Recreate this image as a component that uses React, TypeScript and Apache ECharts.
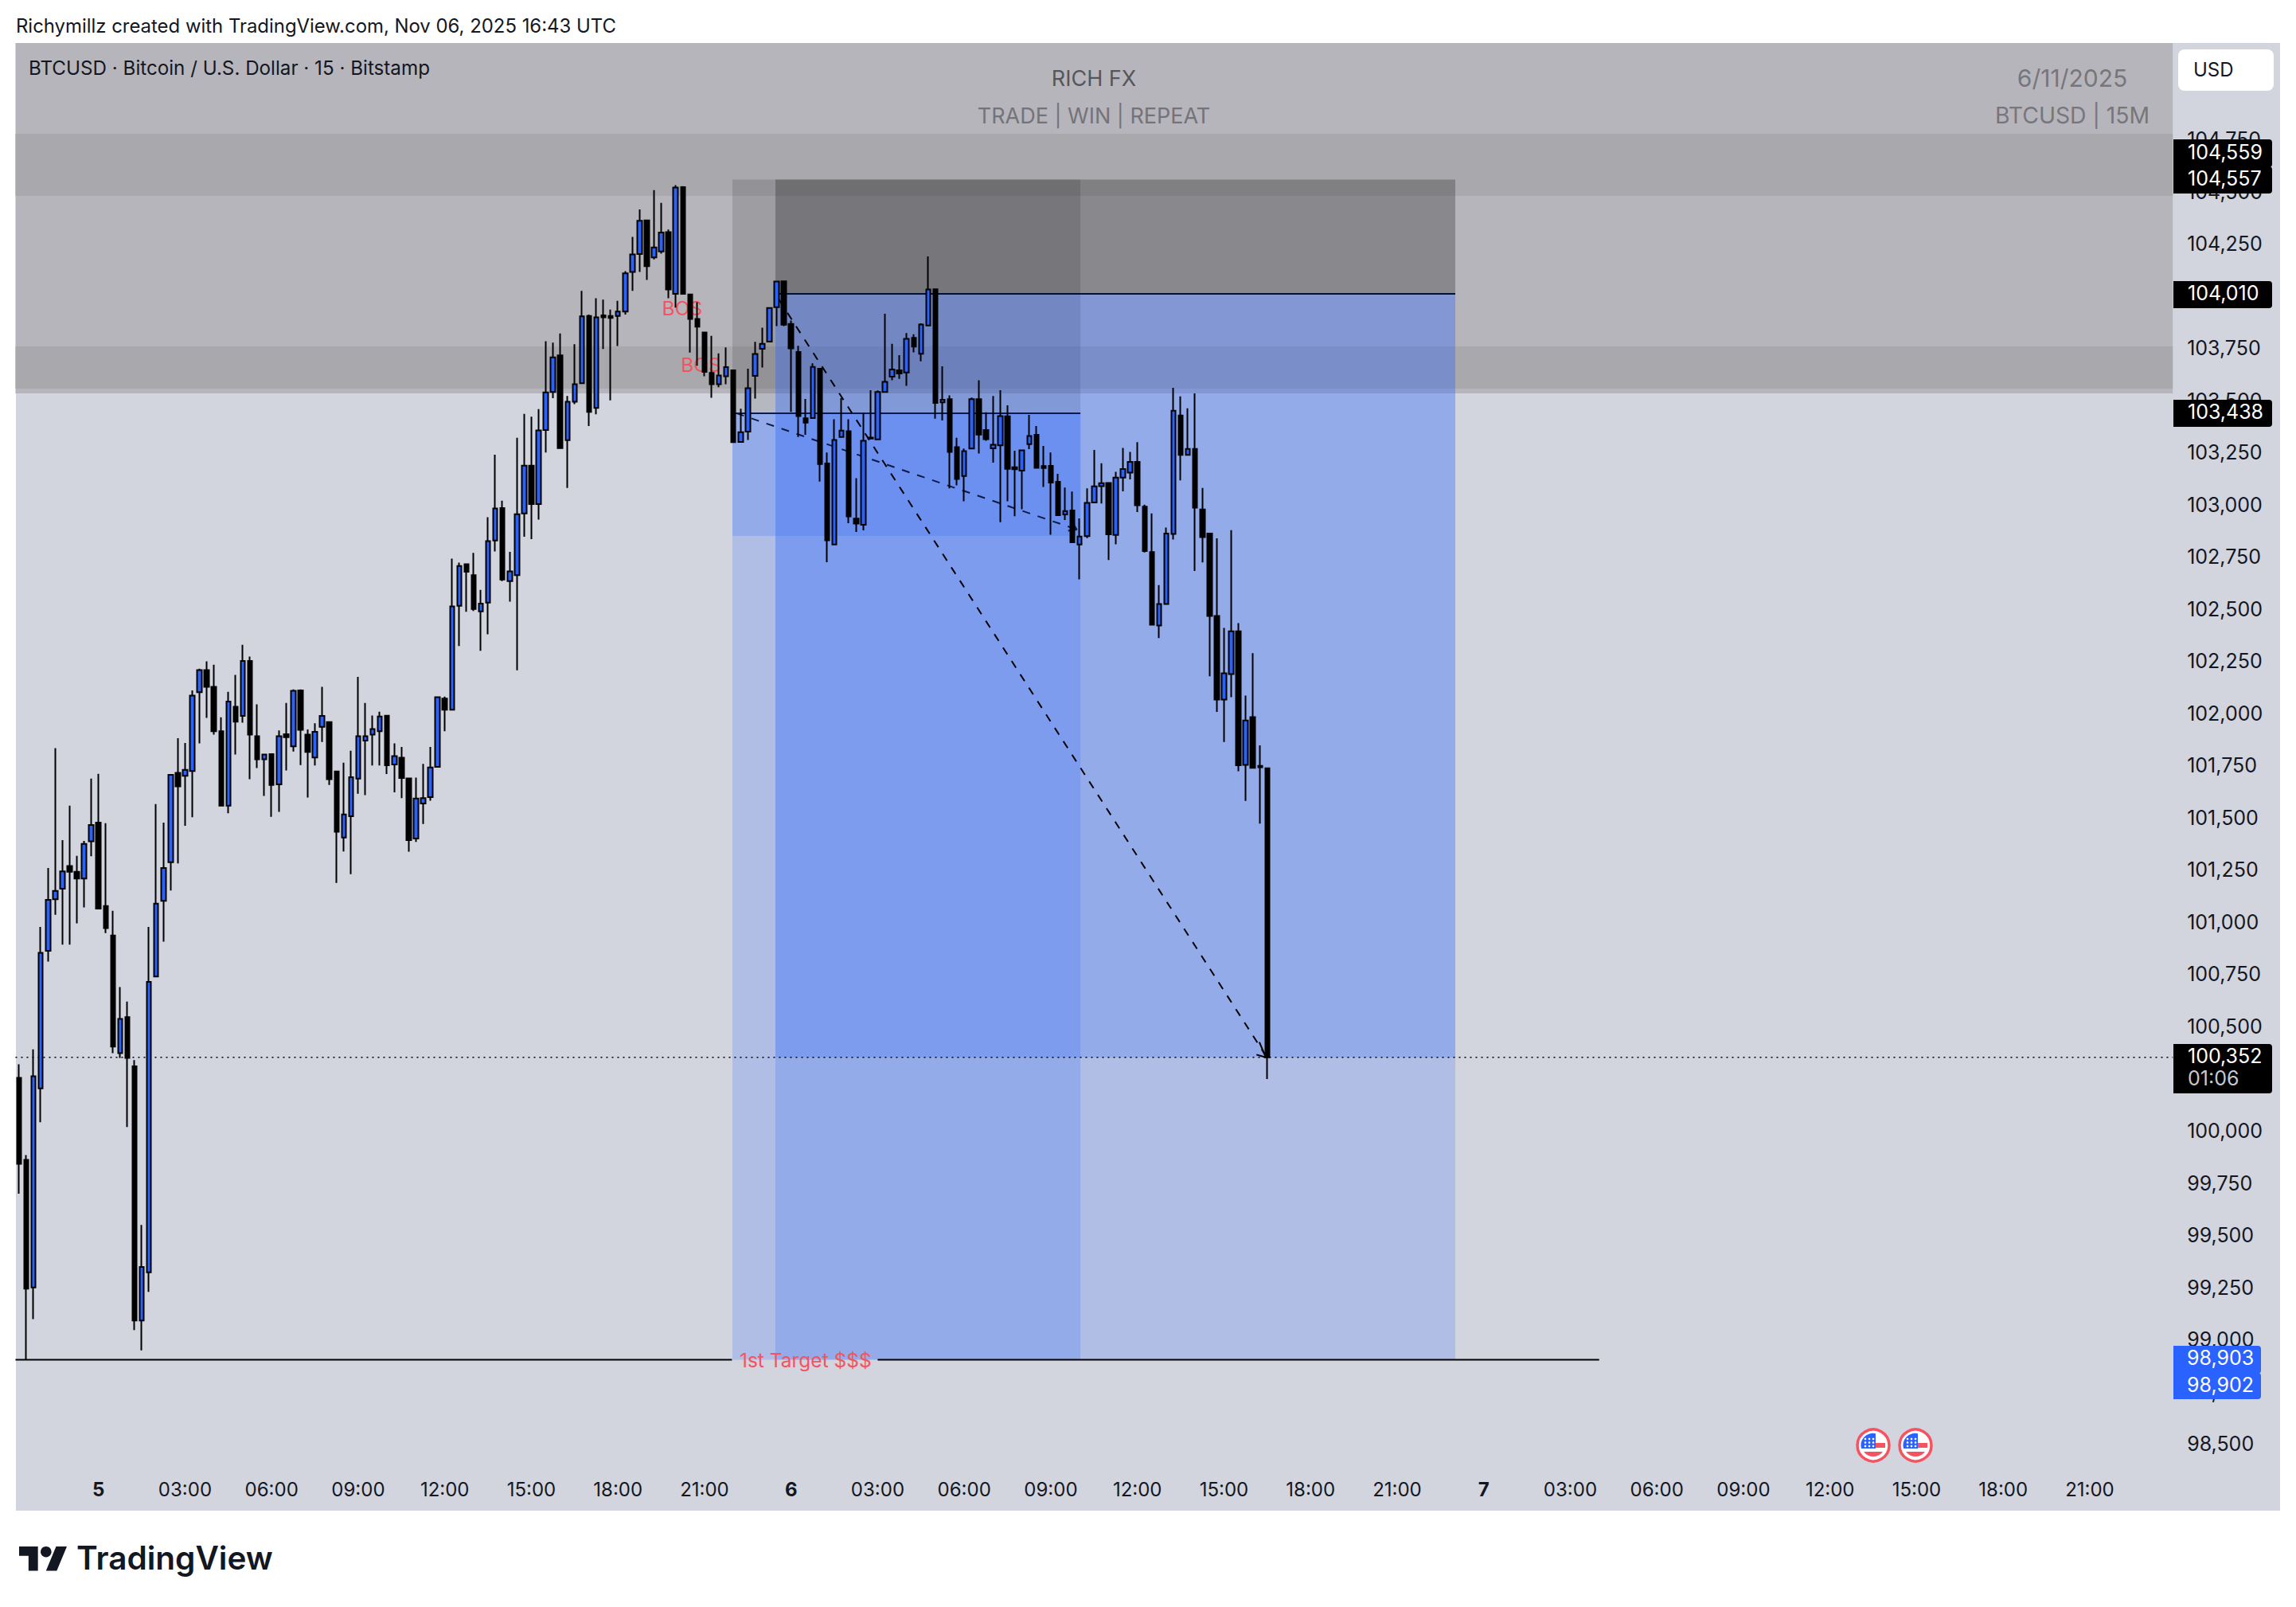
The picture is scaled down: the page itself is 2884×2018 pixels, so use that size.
import React, { useEffect, useRef } from "react";
import * as echarts from "echarts";

const opens = [100254,99861,99249,100203,100862,101109,101160,101269,101241,101209,101387,101477,101077,100936,100372,100545,100309,99091,99322,100739,101102,101287,101715,101701,101724,102101,102207,102127,101914,101558,102032,101988,102251,101891,101780,101805,101660,101900,101842,102110,101898,101789,101935,101958,101722,101405,101507,101687,101870,101898,101914,101989,101755,101788,101688,101400,101568,101599,101744,102071,102017,102515,102715,102662,102489,102531,102828,102984,102634,102662,102958,103187,103003,103358,103540,103715,103309,103493,103582,103904,103463,103907,103904,103904,103925,104115,104201,104362,104185,104213,104306,104010,104521,104007,103890,103825,103631,103577,103615,103644,103300,103350,103617,103747,103781,103946,104070,103866,103731,103414,103415,103651,103197,102809,103324,103352,102933,102904,103321,103313,103540,103613,103644,103633,103799,103723,103858,104032,103490,103505,103276,103137,103269,103505,103358,103270,103284,103423,103179,103163,103290,103335,103185,103186,103110,102953,102972,102809,102849,103010,103089,103104,102855,103130,103153,103205,102990,102773,102421,102524,102860,103427,103238,103267,102977,102862,102467,102066,102188,102393,101753,101982,101748,101737];
const closes = [99842,99244,100261,100853,101107,101149,101243,101241,101209,101375,101465,101065,100971,100404,100536,100349,99091,99348,100714,101088,101259,101706,101650,101729,102085,102207,102127,101914,101558,102057,101960,102251,101898,101780,101803,101657,101891,101886,102108,101921,101815,101912,101988,101685,101433,101516,101694,101891,101891,101925,101985,101751,101795,101690,101393,101592,101594,101741,102078,102017,102512,102706,102678,102500,102526,102825,102982,102641,102680,102954,103187,103003,103356,103538,103706,103271,103493,103577,103902,103444,103897,103897,103895,103925,104108,104199,104360,104143,104232,104304,104031,104519,104010,103890,103853,103636,103577,103619,103659,103299,103347,103558,103722,103771,103942,104069,103862,103749,103424,103393,103660,103194,102829,103310,103355,102944,102909,103306,103317,103540,103588,103648,103628,103794,103757,103863,104031,103487,103503,103253,103123,103256,103505,103336,103314,103287,103424,103172,103170,103260,103329,103176,103175,103106,102949,102969,102820,102847,103008,103088,103103,102858,103130,103171,103205,102997,102778,102425,102524,102862,103450,103238,103267,102986,102844,102467,102066,102192,102393,101751,101966,101739,101742,100352];
const lows = [99699,98902,99098,100041,100811,101035,100892,100892,100994,101070,101315,101061,100947,100372,100349,100018,99045,98948,99228,100739,100906,101151,101281,101461,101502,101856,101978,101898,101558,101521,101803,101955,101685,101738,101604,101504,101528,101727,101817,101752,101597,101750,101863,101657,101188,101338,101230,101615,101608,101750,101750,101709,101622,101594,101337,101384,101470,101582,101744,101914,102017,102323,102487,102491,102300,102379,102776,102634,102535,102206,102846,102835,102928,103250,103510,103271,103080,103482,103582,103377,103433,103746,103500,103760,103911,104024,104115,104077,104175,104203,103989,103944,104010,103729,103666,103615,103512,103563,103577,103299,103300,103310,103508,103657,103781,103855,103855,103444,103324,103335,103415,103111,102724,102809,103324,102911,102869,102877,103317,103313,103540,103596,103603,103569,103730,103687,103858,103412,103403,103078,103092,103016,103269,103245,103306,103201,102916,103016,102945,102978,103266,103176,103085,102856,102949,102926,102820,102642,102840,103010,103006,102735,102810,103064,103121,102965,102771,102421,102361,102524,102833,103116,103238,102682,102723,102178,102007,101863,102078,101723,101581,101739,101472,100248];
const highs = [100319,99884,100390,100977,101259,101833,101393,101558,101317,101389,101687,101710,101474,101054,100689,100619,100339,99549,100977,101565,101477,101706,101881,101858,102110,102214,102249,102233,101981,102103,102184,102328,102272,102043,101803,101805,101918,102050,102115,102115,101923,101953,102127,101958,101722,101764,101821,102175,102050,101990,102008,101989,101856,101839,101688,101692,101758,101839,102078,102080,102741,102722,102715,102769,102592,102940,103239,103019,102774,103320,103435,103421,103458,103783,103776,103820,103521,103769,104024,103911,103989,103982,103935,103977,104119,104283,104414,104362,104507,104446,104318,104531,104526,104007,103970,103825,103809,103725,103753,103644,103460,103651,103780,103848,103942,104069,104070,103882,103761,103506,103677,103651,103250,103409,103510,103409,103127,103438,103548,103547,103915,103771,103716,103822,103816,103869,104189,104032,103663,103524,103320,103269,103513,103596,103442,103521,103548,103476,103258,103260,103430,103377,103281,103250,103148,103082,103063,102934,103078,103262,103198,103104,103157,103272,103253,103299,103000,102958,102615,102890,103560,103519,103462,103533,103080,102862,102839,102409,102878,102432,102085,102288,101847,101737];

const priceTicks = [98500,98750,99000,99250,99500,99750,100000,100250,100500,100750,101000,101250,101500,101750,102000,102250,102500,102750,103000,103250,103500,103750,104000,104250,104500,104750];

// Rectangles: [first bar, last bar, upper price, lower price]
const greyBase = [[-0.5, 298.5, 105212, 103533]];
const greyDark = [[-0.5, 298.5, 104777, 104479], [-0.5, 298.5, 103758, 103556]];
const stopZones = [
  [98.87, 147.1, 104557, 103438],
  [104.83, 147.1, 104557, 104010],
  [104.83, 147.1, 104557, 104010],
  [147.1, 199.06, 104557, 104010],
  [147.1, 199.06, 104557, 104010],
];
const targetZones = [
  [98.87, 147.1, 103438, 102850],
  [98.87, 104.83, 102850, 98903],
  [98.87, 104.83, 103438, 102850],
  [104.83, 199.06, 104010, 100352],
  [104.83, 199.06, 100352, 98903],
  [104.83, 147.1, 104010, 98903],
  [104.83, 147.1, 103438, 100352],
  [147.1, 199.06, 104010, 100352],
];
const entryLine = [[104.83, 104010], [199.06, 104010]];
const entryLine2 = [[98.87, 103438], [147.1, 103438]];
const targetLineLeft = [[-0.5, 98903], [98.8, 98903]];
const targetLineRight = [[119, 98903], [219, 98903]];
const lastPriceLine = [[-0.5, 100352], [298.5, 100352]];
const trendShort = [[99.4, 103438], [146.6, 102881]];
const trendLong = [[105.3, 103983], [172.8, 100360]];
const arrowLong = [[171.5, 100365], [172.8, 100352], [171.9, 100425]];
const arrowShort = [[145.4, 102875], [146.6, 102881], [145.9, 102920]];
const chartNotes = [
  [91.9, 103941, "BOS"],
  [94.5, 103670, "BOS"],
  [109, 98900, "1st Target $$$"],
];

const FONT = "Inter, 'Noto Sans', sans-serif";
const BAR_COUNT = 299;

const categories: string[] = [];
for (let i = 0; i < BAR_COUNT; i++) {
  const minutes = 1275 + i * 15;
  const inDay = minutes % 1440;
  if (inDay === 0) categories.push(String(4 + minutes / 1440));
  else {
    const h = Math.floor(inDay / 60);
    const m = inDay % 60;
    categories.push(String(h).padStart(2, "0") + ":" + String(m).padStart(2, "0"));
  }
}

function rectSeries(data: number[][], fill: string, z: number) {
  return {
    type: "custom",
    xAxisIndex: 1,
    yAxisIndex: 0,
    z,
    silent: true,
    clip: false,
    encode: { x: [0, 1], y: [2, 3] },
    data,
    renderItem: (_: any, api: any) => {
      const a = api.coord([api.value(0), api.value(2)]);
      const b = api.coord([api.value(1), api.value(3)]);
      return { type: "rect", shape: { x: a[0], y: a[1], width: b[0] - a[0], height: b[1] - a[1] }, style: { fill } };
    },
  };
}

function lineSeries(data: number[][], color: string, width: number, type: any, z: number) {
  return {
    type: "line",
    xAxisIndex: 1,
    yAxisIndex: 0,
    z,
    silent: true,
    showSymbol: false,
    symbol: "none",
    data,
    lineStyle: { color, width, type },
  };
}

function label(text: string, x: number, y: number, size: number, fill: string, align = "left", weight = "400", z = 200) {
  return {
    type: "text",
    z,
    x,
    y,
    silent: true,
    style: { text, fill, font: `${weight} ${size}px ${FONT}`, textAlign: align, textVerticalAlign: "middle" },
  };
}

function tag(x: number, y: number, w: number, h: number, fill: string) {
  return { type: "rect", z: 190, silent: true, shape: { x, y, width: w, height: h, r: [0, 4, 4, 0] }, style: { fill } };
}

function flag(cx: number, cy: number) {
  const stars: any[] = [];
  for (const dy of [-8, -3.5, 1]) {
    for (const dx of [-10, -5, 0]) {
      stars.push({ type: "circle", z: 203, silent: true, shape: { cx: cx + dx, cy: cy + dy, r: 1.3 }, style: { fill: "#ffffff" } });
    }
  }
  return [
    { type: "circle", z: 200, silent: true, shape: { cx, cy, r: 20 }, style: { fill: "#ffffff", stroke: "#f7525f", lineWidth: 3.5 } },
    { type: "flagBlue", z: 201, silent: true, x: cx, y: cy, style: { fill: "#2962ff" } },
    { type: "flagRed", z: 201, silent: true, x: cx, y: cy, style: { fill: "#f7525f" } },
    ...stars,
  ];
}

export default function App() {
  const ref = useRef<HTMLDivElement | null>(null);
  useEffect(() => {
    document.body.style.margin = "0";
    document.body.style.background = "#ffffff";
    echarts.graphic.registerShape("flagBlue", echarts.graphic.extendPath("M-15 4 A15 15 0 0 1 3 -14.7 L3 4 Z", {}));
    echarts.graphic.registerShape("flagRed", echarts.graphic.extendPath("M3 -3 L15 -3 L15 3 L3 3 Z M-12 8 L12 8 A15 15 0 0 1 -12 8 Z", {}));
    echarts.graphic.registerShape("tvMark", echarts.graphic.extendPath("M14 22H7V11H0V4h14v18zM28 22h-8l7.5-18h8L28 22z", {}));
    const chart = echarts.init(ref.current!, undefined, { renderer: "svg" });
    chart.setOption({
      animation: false,
      backgroundColor: "transparent",
      grid: { left: 19.47, top: 54, width: 2709.7, height: 1791, containLabel: false },
      xAxis: [
        {
          type: "category",
          data: categories,
          boundaryGap: true,
          axisLine: { show: false },
          axisTick: { show: false },
          splitLine: { show: false },
          axisLabel: {
            show: true,
            margin: 13,
            interval: (_: number, value: string) => value.length < 3 || (value.endsWith(":00") && Number(value.slice(0, 2)) % 3 === 0),
            formatter: (value: string) => (value.length < 3 ? `{day|${value}}` : value),
            color: "#131722",
            fontFamily: FONT,
            fontSize: 24,
            hideOverlap: false,
            rich: { day: { fontFamily: FONT, fontSize: 24, fontWeight: 700, color: "#131722" } },
          },
        },
        { type: "value", min: -0.5, max: 298.5, show: false, splitLine: { show: false } },
      ],
      yAxis: {
        type: "value",
        position: "right",
        min: 98378.6,
        max: 105211.8,
        axisLine: { show: false },
        axisTick: { show: false },
        splitLine: { show: false },
        axisLabel: {
          show: true,
          customValues: priceTicks,
          margin: 18,
          align: "left",
          color: "#131722",
          fontFamily: FONT,
          fontSize: 25,
          padding: [0, 0, 12, 0],
          formatter: (v: number) => v.toLocaleString("en-US"),
        },
      },
      series: [
        rectSeries(greyBase, "#b6b5bb", 1),
        rectSeries(greyDark, "#a9a8ad", 1),
        rectSeries(stopZones, "rgba(0,0,0,0.13)", 1),
        rectSeries(targetZones, "rgba(41,98,255,0.2)", 1),
        {
          type: "custom",
          xAxisIndex: 1,
          yAxisIndex: 0,
          z: 2,
          silent: true,
          encode: { x: 0, y: 1 },
          data: chartNotes,
          renderItem: (_: any, api: any) => {
            const p = api.coord([api.value(0), api.value(1)]);
            return {
              type: "text",
              x: p[0],
              y: p[1],
              style: { text: api.value(2), fill: "#f7525f", font: `400 24.5px ${FONT}`, textAlign: "center", textVerticalAlign: "middle" },
            };
          },
        },
        lineSeries(entryLine, "#07102e", 2, "solid", 2),
        lineSeries(entryLine2, "#0a1a4d", 2, "solid", 2),
        lineSeries(targetLineLeft, "#000000", 2, "solid", 2),
        lineSeries(targetLineRight, "#000000", 2, "solid", 2),
        lineSeries(lastPriceLine, "#000000", 1.5, [2, 5], 2),
        lineSeries(trendShort, "#0c1a45", 2, [10, 10], 2),
        lineSeries(trendLong, "#000000", 2, [10, 10], 2),
        lineSeries(arrowLong, "#000000", 2, "solid", 2),
        lineSeries(arrowShort, "#0c1a45", 2, "solid", 2),
        {
          type: "candlestick",
          xAxisIndex: 0,
          yAxisIndex: 0,
          z: 3,
          silent: true,
          barWidth: 6,
          clip: false,
          data: opens.map((o, i) => [o, closes[i], lows[i], highs[i]]),
          itemStyle: { color: "#2962ff", color0: "#000000", borderColor: "#000000", borderColor0: "#000000", borderWidth: 2 },
        },
      ],
      graphic: [
        {
          elements: [
            { type: "rect", z: -10, silent: true, shape: { x: 20, y: 54, width: 2844, height: 1843 }, style: { fill: "#d2d4de" } },
            label("Richymillz created with TradingView.com, Nov 06, 2025 16:43 UTC", 20, 32, 23.9, "#131722"),
            label("BTCUSD · Bitcoin / U.S. Dollar · 15 · Bitstamp", 36, 85, 24.2, "#131722"),
            label("RICH FX", 1374, 98, 27, "#55555c", "center"),
            label("TRADE | WIN | REPEAT", 1374, 145, 27, "#74737a", "center"),
            label("6/11/2025", 2603, 98, 30, "#77767c", "center"),
            label("BTCUSD | 15M", 2603, 145, 28.3, "#77767c", "center"),
            { type: "rect", z: 190, silent: true, shape: { x: 2736, y: 62, width: 120, height: 52, r: 8 }, style: { fill: "#ffffff" } },
            label("USD", 2755, 87, 24, "#131722"),
            tag(2730, 175, 124, 35, "#000000"),
            label("104,559", 2748, 191, 25, "#ffffff"),
            tag(2730, 209, 124, 34, "#000000"),
            label("104,557", 2748, 224, 25, "#ffffff"),
            tag(2730, 353, 124, 34, "#000000"),
            label("104,010", 2748, 368, 25, "#ffffff"),
            tag(2730, 502, 124, 34, "#000000"),
            label("103,438", 2748, 517, 25, "#ffffff"),
            tag(2730, 1311, 124, 62, "#000000"),
            label("100,352", 2748, 1326, 25, "#ffffff"),
            label("01:06", 2748, 1354, 25, "#c8c8cc"),
            tag(2730, 1690, 110, 35, "#2962ff"),
            label("98,903", 2747, 1705, 25, "#ffffff"),
            tag(2730, 1724, 110, 33, "#2962ff"),
            label("98,902", 2747, 1739, 25, "#ffffff"),
            ...flag(2353, 1815),
            ...flag(2406, 1815),
            { type: "tvMark", z: 200, silent: true, x: 24, y: 1935.2, scaleX: 1.69, scaleY: 1.69, style: { fill: "#131722" } },
            { type: "circle", z: 200, silent: true, shape: { cx: 57.8, cy: 1948.7, r: 6.8 }, style: { fill: "#131722" } },
            label("TradingView", 96, 1956, 40.5, "#131722", "left", "600"),
          ],
        },
      ],
    });
    return () => chart.dispose();
  }, []);
  return <div ref={ref} style={{ position: "absolute", left: 0, top: 0, width: 2884, height: 2018 }} />;
}
